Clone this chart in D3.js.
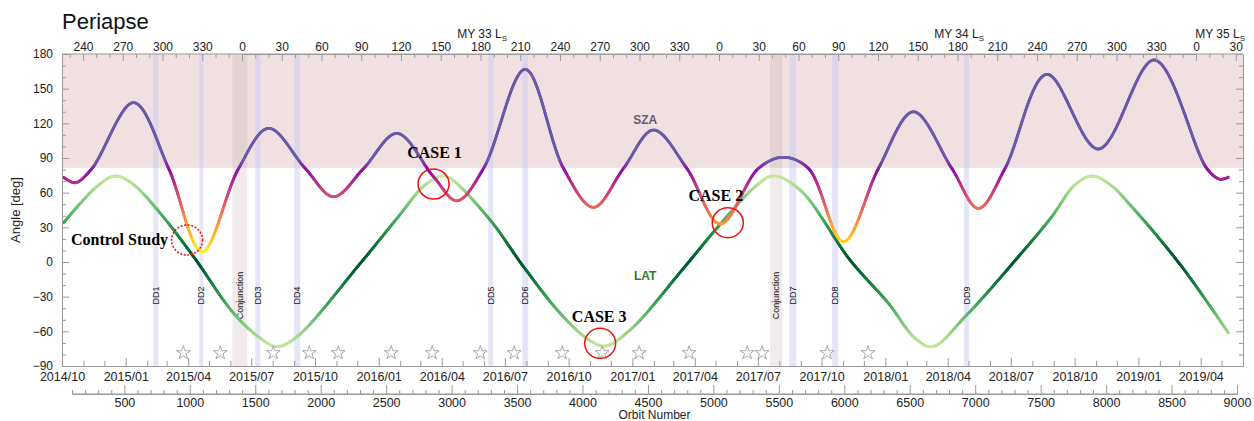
<!DOCTYPE html>
<html>
<head>
<meta charset="utf-8">
<script src="https://cdn.jsdelivr.net/npm/d3@7"></script>
<style>
  body { margin: 0; background: #fff; }
  svg { font-family: 'Liberation Sans', Arial, sans-serif; }
</style>
</head>
<body>
<svg id="chart" width="1254" height="421"></svg>
<script>
// periapse solar zenith angle and latitude vs orbit number
var szaOrbit = [36, 126, 253, 571, 838, 1093, 1373, 1602, 1882, 2098, 2328, 2583, 2862, 3041, 3244, 3562, 3855, 4084, 4313, 4542, 4797, 5052, 5344, 5535, 5726, 5993, 6261, 6528, 6821, 7024, 7228, 7547, 7941, 8368, 8769, 8870, 8933]
var szaValue = [73.3, 68.6, 81, 137.9, 81, 8.9, 81, 115.7, 81, 56.5, 81, 111.3, 73.8, 53, 81, 166.7, 81, 47.3, 81, 114.2, 81, 32.9, 81, 90.6, 81, 17.6, 81, 130, 81, 46.4, 81, 162.4, 97.8, 174.8, 81, 71.6, 73.3]

var latOrbit = [36, 292, 431, 569, 775, 1029, 1335, 1539, 1666, 1819, 2302, 2583, 2791, 2926, 2990, 3295, 3549, 3830, 4044, 4173, 4364, 4771, 5026, 5327, 5459, 5663, 6044, 6337, 6541, 6673, 6923, 7330, 7585, 7755, 7890, 8030, 8196, 8578, 8933]
var latValue = [34, 65.5, 74.4, 67, 42.1, 4.6, -44.4, -66, -73.3, -64.6, -1.2, 37.8, 66, 74.4, 72.4, 36.3, -4, -44.4, -67, -72.7, -58.8, -5.5, 29.2, 66, 74.4, 62.3, 1.7, -35.7, -66, -73.3, -47.3, 4.6, 39.2, 66, 74.4, 67, 47.9, -4, -61.2]

// night side (SZA above this) shading
var nightSza = 81.5

// dust devil campaigns and solar conjunctions (orbit ranges)
var bandLabel = ['DD1', 'DD2', 'Conjunction', 'DD3', 'DD4', 'DD5', 'DD6', 'Conjunction', 'DD7', 'DD8', 'DD9']
var bandStart = [721, 1073, 1325, 1500, 1798, 3280, 3540, 5433, 5580, 5907, 6915]
var bandEnd = [760, 1103, 1439, 1539, 1844, 3318, 3585, 5525, 5633, 5953, 6953]

var starOrbit = [951, 1233, 1638, 1913, 2134, 2539, 2852, 3219, 3478, 3845, 4150, 4433, 4815, 5258, 5372, 5869, 6182]

var caseName = ['Control Study', 'CASE 1', 'CASE 2', 'CASE 3']
var caseOrbit = [979, 2862, 5110, 4135]
var caseAngle = [19, 67.5, 34, -70.4]

var yTicks = [-90, -60, -30, 0, 30, 60, 90, 120, 150, 180]
var orbitTicks = [500, 1000, 1500, 2000, 2500, 3000, 3500, 4000, 4500, 5000, 5500, 6000, 6500, 7000, 7500, 8000, 8500, 9000]
var dateTicks = ['2014/10', '2015/01', '2015/04', '2015/07', '2015/10', '2016/01', '2016/04', '2016/07', '2016/10', '2017/01', '2017/04', '2017/07', '2017/10', '2018/01', '2018/04', '2018/07', '2018/10', '2019/01', '2019/04']
// Ls ticks, counted continuously from MY 33 Ls 0
var lsTicks = [-120, -90, -60, -30, 0, 30, 60, 90, 120, 150, 180, 210, 240, 270, 300, 330, 360, 390, 420, 450, 480, 510, 540, 570, 600, 630, 660, 690, 720, 750]
var myLabel = ['MY 33', 'MY 34', 'MY 35']
var myLabelLs = [200, 560, 757]

var margin = { top: 54, left: 62, bottom: 55, right: 11 }
var width = 1254
var height = 421
var chartWidth = width - margin.left - margin.right
var chartHeight = height - margin.top - margin.bottom

var svg = d3.select('#chart')
var g = svg.append('g')
  .attr('transform', 'translate(' + margin.left + ',' + margin.top + ')')

var x = d3.scaleLinear().domain([100, 9000]).range([10, 1175])
var y = d3.scaleLinear().domain([-90, 180]).range([chartHeight, 0])
var xDate = d3.scaleTime()
  .domain([new Date(2014, 9, 1), new Date(2019, 5, 1)])
  .range([0, chartWidth])
var xLs = d3.scaleLinear().domain([0, 720]).range([180, 1134])
var parseMonth = d3.timeParse('%Y/%m')

// night shading
g.append('rect')
  .attr('x', 0)
  .attr('y', y(180))
  .attr('width', chartWidth)
  .attr('height', y(nightSza) - y(180))
  .attr('fill', '#f0e0e1')

var bands = bandLabel.map(function (l, i) {
  return { label: l, start: bandStart[i], end: bandEnd[i] }
})

g.selectAll('.band')
  .data(bands).enter().append('rect')
  .attr('class', 'band')
  .attr('x', function (d) { return x(d.start) })
  .attr('width', function (d) { return x(d.end) - x(d.start) })
  .attr('y', 0)
  .attr('height', chartHeight)
  .attr('fill', function (d) { return d.label === 'Conjunction' ? 'rgb(190,165,165)' : 'rgb(200,200,240)' })
  .attr('fill-opacity', function (d) { return d.label === 'Conjunction' ? 0.22 : 0.48 })

g.selectAll('.bandLabel')
  .data(bands).enter().append('text')
  .attr('class', 'bandLabel')
  .attr('transform', function (d) {
    return 'translate(' + x((d.start + d.end) / 2) + ',' + y(-29) + ') rotate(-90)'
  })
  .attr('text-anchor', 'middle')
  .attr('dy', '0.35em')
  .attr('font-size', 9)
  .attr('fill', '#111')
  .text(function (d) { return d.label })

function szaColor (v) {
  if (v >= 88) return '#6a5aaa'
  if (v >= 80) return d3.interpolateRgb(d3.interpolatePlasma(0.3), '#6a5aaa')((v - 80) / 8)
  return d3.interpolatePlasma(Math.min(1, 0.3 + (80 - v) / 71 * 0.7))
}

function latColor (v) {
  return d3.interpolateYlGn(0.95 - 0.65 * Math.min(1, Math.abs(v) / 74))
}

function drawGradientLine (xs, ys, colorFn) {
  var pts = xs.map(function (o, i) { return [x(o), y(ys[i])] })
  var line = d3.line().curve(d3.curveCatmullRom.alpha(0.5))
  var tmp = g.append('path').attr('d', line(pts)).attr('fill', 'none')
  var node = tmp.node()
  var len = node.getTotalLength()
  var samples = d3.range(0, len, 1.2).concat([len]).map(function (l) {
    var p = node.getPointAtLength(l)
    return [p.x, p.y]
  })
  tmp.remove()
  g.append('g').selectAll('line')
    .data(d3.pairs(samples)).enter().append('line')
    .attr('x1', function (d) { return d[0][0] })
    .attr('y1', function (d) { return d[0][1] })
    .attr('x2', function (d) { return d[1][0] })
    .attr('y2', function (d) { return d[1][1] })
    .attr('stroke', function (d) { return colorFn(y.invert((d[0][1] + d[1][1]) / 2)) })
    .attr('stroke-width', 2.8)
    .attr('stroke-linecap', 'round')
}

drawGradientLine(latOrbit, latValue, latColor)
drawGradientLine(szaOrbit, szaValue, szaColor)

g.append('text')
  .attr('x', x(4479))
  .attr('y', y(119.4))
  .attr('text-anchor', 'middle')
  .attr('font-size', 12)
  .attr('font-weight', 'bold')
  .attr('fill', '#6e5a6c')
  .text('SZA')

g.append('text')
  .attr('x', x(4479))
  .attr('y', y(-15.6))
  .attr('text-anchor', 'middle')
  .attr('font-size', 12)
  .attr('font-weight', 'bold')
  .attr('fill', '#2c7d2c')
  .text('LAT')

g.selectAll('.star')
  .data(starOrbit).enter().append('path')
  .attr('class', 'star')
  .attr('transform', function (d) { return 'translate(' + x(d) + ',' + y(-78.7) + ')' })
  .attr('d', d3.symbol(d3.symbolStar, 60))
  .attr('fill', '#fff')
  .attr('fill-opacity', 0.6)
  .attr('stroke', '#a8a8a8')
  .attr('stroke-width', 1)

// case markers
var caseStyle = [
  { dx: -19, dy: 5, anchor: 'end', dash: '2,1.6' },
  { dx: 1, dy: -26, anchor: 'middle', dash: null },
  { dx: -12, dy: -22, anchor: 'middle', dash: null },
  { dx: -1, dy: -21.6, anchor: 'middle', dash: null }
]

var cases = caseName.map(function (n, i) {
  return { name: n, orbit: caseOrbit[i], angle: caseAngle[i], s: caseStyle[i] }
})

g.selectAll('.caseCircle')
  .data(cases).enter().append('ellipse')
  .attr('class', 'caseCircle')
  .attr('cx', function (d) { return x(d.orbit) })
  .attr('cy', function (d) { return y(d.angle) })
  .attr('rx', 15.5)
  .attr('ry', 15)
  .attr('fill', 'none')
  .attr('stroke', '#f01010')
  .attr('stroke-width', 1.5)
  .attr('stroke-dasharray', function (d) { return d.s.dash })

g.selectAll('.caseLabel')
  .data(cases).enter().append('text')
  .attr('class', 'caseLabel')
  .attr('x', function (d) { return x(d.orbit) + d.s.dx })
  .attr('y', function (d) { return y(d.angle) + d.s.dy })
  .attr('text-anchor', function (d) { return d.s.anchor })
  .attr('font-family', "'Liberation Serif', 'Times New Roman', serif")
  .attr('font-weight', 'bold')
  .attr('font-size', 16)
  .attr('fill', '#000')
  .text(function (d) { return d.name })

// axes
function styleAxis (sel) {
  sel.selectAll('path').attr('stroke', '#9a9a9a')
  sel.selectAll('line').attr('stroke', '#9a9a9a')
  sel.selectAll('text').attr('fill', '#222').attr('font-family', "'Liberation Sans', Arial, sans-serif")
}

function minorOf (start, stop, step, majors) {
  return d3.range(start, stop + step / 2, step).filter(function (v) { return majors.indexOf(v) < 0 })
}

var yMinor = minorOf(-90, 180, 10, yTicks)

var gY = g.append('g').attr('class', 'y axis')
gY.call(d3.axisLeft(y).tickValues(yTicks).tickSize(-7).tickPadding(9).tickSizeOuter(0))
  .attr('font-size', 12)
gY.append('g').call(d3.axisLeft(y).tickValues(yMinor).tickSize(-4).tickFormat('').tickSizeOuter(0))
styleAxis(gY)

var gYr = g.append('g').attr('class', 'y axis right')
  .attr('transform', 'translate(' + chartWidth + ',0)')
gYr.call(d3.axisRight(y).tickValues(yTicks).tickSize(-7).tickFormat('').tickSizeOuter(0))
gYr.append('g').call(d3.axisRight(y).tickValues(yMinor).tickSize(-4).tickFormat('').tickSizeOuter(0))
styleAxis(gYr)

var lsMinor = minorOf(-130, 750, 10, lsTicks)
var gTop = g.append('g').attr('class', 'ls axis')
gTop.call(d3.axisTop(xLs).tickValues(lsTicks).tickSize(-7).tickPadding(3).tickSizeOuter(0)
  .tickFormat(function (v) { return ((v % 360) + 360) % 360 }))
  .attr('font-size', 12)
gTop.append('g').call(d3.axisTop(xLs).tickValues(lsMinor).tickSize(-4).tickFormat('').tickSizeOuter(0))
gTop.select('.domain').attr('d', 'M0,0H' + chartWidth)
styleAxis(gTop)

var myText = gTop.selectAll('.myLabel')
  .data(myLabel).enter().append('text')
  .attr('class', 'myLabel')
  .attr('x', function (d, i) { return xLs(myLabelLs[i]) })
  .attr('y', -16.5)
  .attr('text-anchor', 'end')
  .attr('font-size', 12)
  .attr('fill', '#222')
myText.append('tspan').text(function (d) { return d + ' L' })
myText.append('tspan').attr('font-size', 8).attr('dy', 3).text('S')

var dateValues = dateTicks.map(parseMonth)
var monthMinor = d3.timeMonth.range(xDate.domain()[0], xDate.domain()[1])
  .filter(function (m) { return m.getMonth() % 3 !== 0 })

var gX = g.append('g').attr('class', 'x axis')
  .attr('transform', 'translate(0,' + chartHeight + ')')
gX.call(d3.axisBottom(xDate).tickValues(dateValues).tickSize(-8).tickPadding(6).tickSizeOuter(0)
  .tickFormat(d3.timeFormat('%Y/%m')))
  .attr('font-size', 12.5)
gX.append('g').call(d3.axisBottom(xDate).tickValues(monthMinor).tickSize(-5).tickFormat('').tickSizeOuter(0))
styleAxis(gX)

var orbitMinor = minorOf(100, 9000, 100, orbitTicks)
var gO = g.append('g').attr('class', 'orbit axis')
  .attr('transform', 'translate(0,' + (chartHeight + 28) + ')')
gO.call(d3.axisBottom(x).tickValues(orbitTicks).tickSize(-9).tickPadding(4).tickSizeOuter(0)
  .tickFormat(d3.format('d')))
  .attr('font-size', 12.5)
gO.append('g').call(d3.axisBottom(x).tickValues(orbitMinor).tickSize(-4).tickFormat('').tickSizeOuter(0))
gO.select('.domain').attr('d', 'M' + x(100) + ',0H' + x(9000))
styleAxis(gO)

g.append('text')
  .attr('x', (x(100) + x(9000)) / 2)
  .attr('y', chartHeight + 52.5)
  .attr('text-anchor', 'middle')
  .attr('font-size', 12)
  .attr('fill', '#222')
  .text('Orbit Number')

g.append('text')
  .attr('transform', 'translate(' + (-42) + ',' + (chartHeight / 2) + ') rotate(-90)')
  .attr('text-anchor', 'middle')
  .attr('font-size', 13)
  .attr('fill', '#222')
  .text('Angle [deg]')

g.append('text')
  .attr('x', 0)
  .attr('y', -25)
  .attr('font-size', 22)
  .attr('fill', '#111')
  .text('Periapse')
</script>
</body>
</html>
